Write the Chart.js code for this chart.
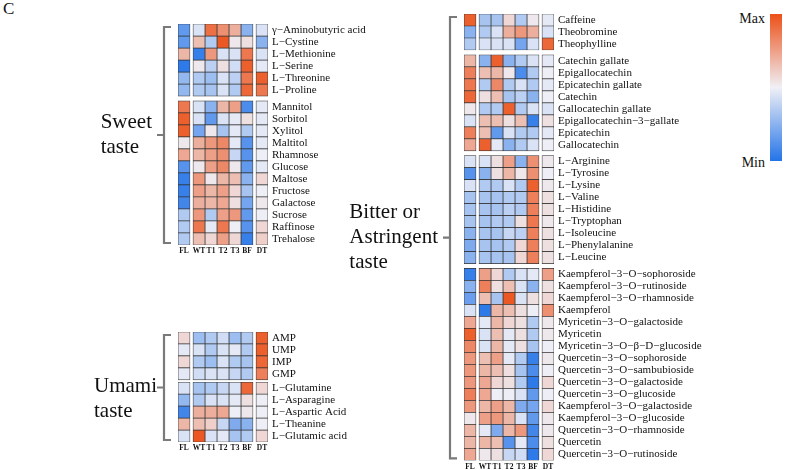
<!DOCTYPE html>
<html>
<head>
<meta charset="utf-8">
<script src="https://cdn.jsdelivr.net/npm/chart.js@4.4.1/dist/chart.umd.min.js"></script>
<style>
  body { margin: 0; width: 787px; height: 470px; overflow: hidden; background: #fff; position: relative; font-family: "Liberation Serif", serif; }
  canvas { position: absolute; }
  #panelC { position: absolute; left: 3px; top: -1px; font-size: 17px; color: #111; }
  #legendBar { position: absolute; left: 770px; top: 14px; width: 12px; height: 147px;
    background: linear-gradient(to bottom, rgb(236,80,24), rgb(240,240,246), rgb(36,116,232)); }
  .lg { position: absolute; font-size: 14px; color: #111; text-align: right; width: 40px; }
</style>
</head>
<body>
<div id="panelC">C</div>
<canvas id="sweet" width="438" height="263" style="left:0;top:0"></canvas>
<canvas id="umami" width="438" height="160" style="left:0;top:300px"></canvas>
<canvas id="bitter" width="394" height="471" style="left:330px;top:0"></canvas>
<div id="legendBar"></div>
<div class="lg" style="left:725px;top:11px">Max</div>
<div class="lg" style="left:725px;top:155px">Min</div>

<script>
// columns of every heatmap block
const columns = ["FL", "WT", "T1", "T2", "T3", "BF", "DT"];

// ---- sweet taste ----
const sweetAminoNames = ["γ−Aminobutyric acid", "L−Cystine", "L−Methionine", "L−Serine", "L−Threonine", "L−Proline"];
const sweetAminoValues = [
  [-0.7, -0.1, 0.8, 0.6, 0.4, -0.5, -0.1],
  [-0.7, 0.3, -0.3, 0.95, 0.05, 0.1, -0.5],
  [0.35, -0.9, 0.55, -0.1, -0.1, 0.75, -0.1],
  [-0.95, 0.05, -0.25, 0.1, -0.15, 0.9, -0.05],
  [-0.45, -0.3, -0.4, -0.1, -0.25, 0.75, 0.9],
  [-0.45, -0.3, -0.35, -0.1, -0.3, 0.85, 0.75]
];
const sugarNames = ["Mannitol", "Sorbitol", "Xylitol", "Maltitol", "Rhamnose", "Glucose", "Maltose", "Fructose", "Galactose", "Sucrose", "Raffinose", "Trehalose"];
const sugarValues = [
  [0.75, -0.1, -0.5, 0.35, 0.5, -0.8, -0.05],
  [0.9, -0.1, -0.7, -0.1, -0.05, 0.1, -0.05],
  [0.9, -0.6, 0.05, -0.35, -0.05, -0.3, -0.05],
  [0.05, 0.4, 0.55, 0.65, -0.05, -0.75, -0.05],
  [0.45, 0.35, 0.5, 0.6, -0.2, -0.75, 0.0],
  [-0.75, 0.05, 0.5, 0.65, 0.05, -0.7, -0.05],
  [-0.9, 0.55, 0.05, 0.35, 0.3, -0.5, 0.15],
  [-0.9, 0.5, 0.35, 0.5, 0.15, -0.35, 0.0],
  [-0.85, 0.4, 0.35, 0.45, 0.1, -0.6, 0.05],
  [-0.3, 0.55, -0.3, 0.5, 0.55, -0.7, 0.0],
  [-0.3, 0.75, -0.05, 0.75, 0.0, -0.75, 0.15],
  [-0.3, 0.3, 0.15, 0.5, 0.15, -0.9, 0.2]
];

// ---- umami taste ----
const nucleotideNames = ["AMP", "UMP", "IMP", "GMP"];
const nucleotideValues = [
  [0.15, -0.4, -0.3, -0.15, -0.4, -0.3, 0.9],
  [-0.05, -0.1, -0.3, -0.1, -0.05, -0.3, 0.9],
  [0.15, -0.3, -0.4, -0.1, -0.3, -0.35, 0.85],
  [-0.05, -0.15, -0.1, -0.1, -0.2, -0.3, 0.7]
];
const umamiAminoNames = ["L−Glutamine", "L−Asparagine", "L−Aspartic Acid", "L−Theanine", "L−Glutamic acid"];
const umamiAminoValues = [
  [-0.1, -0.35, -0.3, -0.2, -0.1, 0.85, 0.15],
  [-0.45, -0.3, -0.1, -0.1, -0.05, 0.1, 0.0],
  [-0.85, 0.4, 0.4, 0.45, 0.0, 0.05, 0.0],
  [0.35, 0.3, 0.2, -0.2, -0.55, -0.5, 0.0],
  [-0.1, 0.95, -0.1, -0.05, -0.35, -0.3, 0.15]
];

// ---- bitter or astringent taste ----
const alkaloidNames = ["Caffeine", "Theobromine", "Theophylline"];
const alkaloidValues = [
  [0.9, -0.35, -0.35, 0.15, -0.3, 0.05, -0.05],
  [-0.5, -0.3, -0.1, 0.4, 0.55, 0.4, -0.1],
  [-0.3, -0.1, -0.1, -0.1, -0.6, -0.1, 0.85]
];
const catechinNames = ["Catechin gallate", "Epigallocatechin", "Epicatechin gallate", "Catechin", "Gallocatechin gallate", "Epigallocatechin−3−gallate", "Epicatechin", "Gallocatechin"];
const catechinValues = [
  [0.35, -0.5, 0.9, -0.5, -0.3, -0.1, -0.05],
  [0.7, 0.3, 0.35, 0.05, -0.8, -0.3, 0.0],
  [0.75, -0.3, 0.65, -0.3, -0.1, -0.3, -0.05],
  [0.85, 0.1, 0.3, -0.35, -0.25, -0.5, 0.0],
  [0.05, -0.3, -0.3, 0.9, -0.3, -0.1, -0.1],
  [-0.1, 0.3, 0.3, 0.1, 0.3, -0.9, 0.1],
  [0.7, 0.3, -0.7, -0.1, -0.3, -0.3, -0.05],
  [0.45, 0.9, -0.05, -0.5, -0.3, -0.1, 0.0]
];
const bitterAminoNames = ["L−Arginine", "L−Tyrosine", "L−Lysine", "L−Valine", "L−Histidine", "L−Tryptophan", "L−Isoleucine", "L−Phenylalanine", "L−Leucine"];
const bitterAminoValues = [
  [-0.1, -0.1, 0.1, 0.5, -0.5, 0.6, 0.05],
  [-0.75, -0.5, 0.1, 0.35, 0.05, 0.6, 0.0],
  [-0.1, -0.3, -0.3, -0.1, -0.3, 0.9, 0.05],
  [-0.35, -0.35, -0.35, -0.3, -0.3, 0.7, 0.1],
  [-0.35, -0.35, -0.35, -0.25, -0.3, 0.7, 0.1],
  [-0.35, -0.35, -0.3, -0.3, 0.1, 0.75, 0.05],
  [-0.5, -0.35, -0.35, -0.2, -0.25, 0.7, 0.1],
  [-0.55, -0.35, -0.35, -0.3, 0.15, 0.7, 0.1],
  [-0.5, -0.35, -0.35, -0.35, 0.15, 0.7, 0.1]
];
const flavonolNames = ["Kaempferol−3−O−sophoroside", "Kaempferol−3−O−rutinoside", "Kaempferol−3−O−rhamnoside", "Kaempferol",
  "Myricetin−3−O−galactoside", "Myricetin", "Myricetin−3−O−β−D−glucoside", "Quercetin−3−O−sophoroside",
  "Quercetin−3−O−sambubioside", "Quercetin−3−O−galactoside", "Quercetin−3−O−glucoside", "Kaempferol−3−O−galactoside",
  "Kaempferol−3−O−glucoside", "Quercetin−3−O−rhamnoside", "Quercetin", "Quercetin−3−O−rutinoside"];
const flavonolValues = [
  [-0.9, 0.5, 0.15, -0.3, -0.1, -0.05, 0.5],
  [-0.5, 0.7, 0.1, 0.3, -0.1, -0.5, 0.1],
  [-0.65, 0.3, -0.35, 0.95, -0.1, 0.1, 0.15],
  [-0.1, -0.95, 0.35, 0.3, 0.1, 0.0, 0.6],
  [0.45, -0.05, 0.35, 0.15, 0.1, -0.3, 0.05],
  [0.9, -0.1, 0.3, -0.05, 0.1, -0.3, 0.05],
  [0.65, -0.1, 0.35, -0.05, 0.1, -0.35, 0.0],
  [0.55, 0.3, 0.5, -0.05, -0.3, -0.9, 0.05],
  [0.55, 0.35, 0.3, 0.1, -0.35, -0.8, 0.0],
  [0.55, 0.45, 0.15, 0.1, -0.3, -0.95, 0.15],
  [0.7, 0.45, 0.0, 0.0, -0.1, -0.7, 0.0],
  [0.55, 0.35, 0.5, 0.35, -0.55, -0.6, 0.15],
  [0.05, 0.5, 0.55, 0.35, -0.1, -0.7, 0.05],
  [0.35, -0.05, -0.55, 0.35, 0.55, -0.85, 0.05],
  [0.35, 0.35, 0.3, -0.75, -0.05, -0.8, 0.1],
  [0.45, 0.05, 0.1, -0.2, -0.15, -0.95, 0.15]
];

// colour scale: Min (blue) -> white -> Max (red)
const minColor = [36, 116, 232], midColor = [238, 239, 246], maxColor = [236, 80, 24];
function heatColor(v) {
  const t = Math.max(-1, Math.min(1, v));
  const end = t < 0 ? minColor : maxColor;
  const a = Math.abs(t);
  const c = midColor.map((m, i) => Math.round(m + (end[i] - m) * a));
  return "rgb(" + c.join(",") + ")";
}

// FL | WT..BF | DT blocks, with a small gap between them
const colStart = [0, 1.25, 2.25, 3.25, 4.25, 5.25, 6.5];

const bracketPlugin = {
  id: "bracket",
  afterDraw(chart, args, o) {
    const { ctx, chartArea: a } = chart;
    const ys = chart.scales.y;
    const top = ys.getPixelForValue(ys.min) + 3;
    const bottom = ys.getPixelForValue(ys.max) - 2;
    const x = a.left - 14, mid = (top + bottom) / 2;
    ctx.save();
    ctx.strokeStyle = "#7a7a7a";
    ctx.lineWidth = 2.2;
    ctx.beginPath();
    ctx.moveTo(a.left - 7, top); ctx.lineTo(x, top); ctx.lineTo(x, bottom); ctx.lineTo(a.left - 7, bottom);
    ctx.moveTo(x, mid); ctx.lineTo(a.left - 21, mid);
    ctx.stroke();
    ctx.font = '21px "Liberation Serif"';
    ctx.fillStyle = "#111";
    ctx.textBaseline = "alphabetic";
    const w = Math.max(...o.lines.map(l => ctx.measureText(l).width));
    const left = a.left - 26 + o.shift - w;
    o.lines.forEach((l, i) => ctx.fillText(l, left, mid + o.firstOffset + i * 25));
    ctx.restore();
  }
};

function makeHeatmap(id, groups, gap, pad, labels) {
  const rows = [];
  let pos = 0;
  groups.forEach((g, gi) => {
    if (gi > 0) pos += gap;
    g.names.forEach((n, i) => { rows.push({ name: n, y: pos, vals: g.values[i] }); pos += 1; });
  });
  const datasets = columns.map((c, ci) => ({
    label: c,
    grouped: false,
    barPercentage: 1,
    categoryPercentage: 1,
    borderSkipped: false,
    borderWidth: 0.7,
    borderColor: "#333",
    backgroundColor: ctx => ctx.raw ? heatColor(ctx.raw.v) : "#fff",
    data: rows.map(r => ({ y: r.y, x: [colStart[ci], colStart[ci] + 1], v: r.vals[ci] }))
  }));
  return new Chart(document.getElementById(id), {
    type: "bar",
    data: { datasets },
    plugins: [bracketPlugin],
    options: {
      indexAxis: "y",
      responsive: false,
      animation: false,
      layout: { padding: pad },
      plugins: { legend: { display: false }, tooltip: { enabled: false }, bracket: labels },
      scales: {
        x: {
          type: "linear", min: 0, max: 7.5, offset: false,
          grid: { display: false, drawTicks: false }, border: { display: false },
          afterBuildTicks: s => { s.ticks = colStart.map(v => ({ value: v + 0.5 })); },
          afterFit: s => { s.height = pad.xh; },
          ticks: {
            autoSkip: false, maxRotation: 0, padding: 2, color: "#111",
            font: { family: "Liberation Serif", size: 7.5, weight: "bold" },
            callback: (v, i) => columns[i]
          }
        },
        y: {
          type: "linear", position: "right", reverse: true, offset: false,
          min: -0.5, max: pos - 0.5,
          grid: { display: false, drawTicks: false }, border: { display: false },
          afterBuildTicks: s => { s.ticks = rows.map(r => ({ value: r.y })); },
          afterFit: s => { s.width = 170; },
          ticks: {
            autoSkip: false, padding: 4, color: "#111",
            font: { family: "Liberation Serif", size: 11 },
            callback: (v, i) => rows[i].name
          }
        }
      }
    }
  });
}

makeHeatmap("sweet",
  [{ names: sweetAminoNames, values: sweetAminoValues }, { names: sugarNames, values: sugarValues }],
  0.4, { left: 178, top: 24, right: 0, bottom: 4, xh: 14 },
  { lines: ["Sweet", "taste"], firstOffset: -7, shift: 0 });

makeHeatmap("umami",
  [{ names: nucleotideNames, values: nucleotideValues }, { names: umamiAminoNames, values: umamiAminoValues }],
  0.2, { left: 178, top: 32, right: 0, bottom: 4, xh: 14 },
  { lines: ["Umami", "taste"], firstOffset: 4, shift: 5 });

makeHeatmap("bitter",
  [{ names: alkaloidNames, values: alkaloidValues }, { names: catechinNames, values: catechinValues },
   { names: bitterAminoNames, values: bitterAminoValues }, { names: flavonolNames, values: flavonolValues }],
  0.4, { left: 134, top: 14, right: 0, bottom: 0, xh: 10 },
  { lines: ["Bitter or", "Astringent", "taste"], firstOffset: -20, shift: 0 });
</script>
</body>
</html>
